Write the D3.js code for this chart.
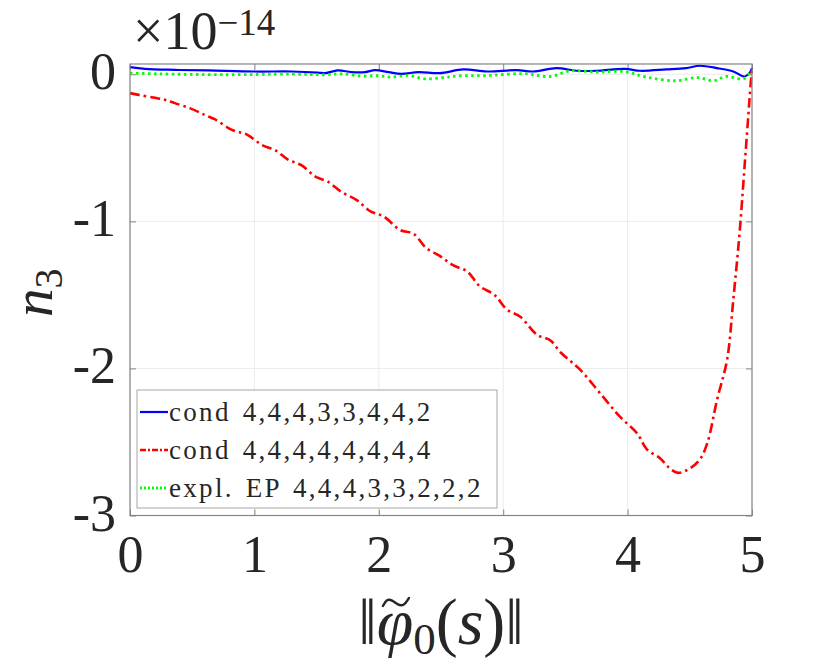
<!DOCTYPE html>
<html>
<head>
<meta charset="utf-8">
<script src="https://cdn.jsdelivr.net/npm/d3@7"></script>
<style>
  body { margin: 0; background: #fff; }
  svg { display: block; }
</style>
</head>
<body>
<div id="chart"></div>
<script>
// values are in units of 1e-14
const xTicks = [0, 1, 2, 3, 4, 5];
const yTicks = [-3, -2, -1, 0];

const blueX = [0, 0.12, 0.36, 0.63, 1.0, 1.3, 1.51, 1.57, 1.67, 1.78, 1.89, 1.97, 2.08, 2.18, 2.32, 2.49, 2.68, 2.87, 3.11, 3.24, 3.43, 3.59, 3.75, 3.98, 4.10, 4.31, 4.47, 4.58, 4.72, 4.85, 4.94, 4.98, 5.0];
const blueY = [0.049, 0.037, 0.03, 0.026, 0.019, 0.019, 0.012, 0.008, 0.026, 0.015, 0.015, 0.028, 0.015, 0.003, 0.015, 0.008, 0.033, 0.019, 0.028, 0.019, 0.042, 0.024, 0.024, 0.037, 0.024, 0.033, 0.042, 0.058, 0.042, 0.019, -0.015, 0.008, 0.042];

const redX = [0, 0.07, 0.2, 0.28, 0.36, 0.48, 0.60, 0.68, 0.82, 0.94, 1.06, 1.17, 1.27, 1.38, 1.49, 1.59, 1.70, 1.82, 1.93, 2.04, 2.17, 2.28, 2.38, 2.49, 2.60, 2.71, 2.81, 2.93, 3.03, 3.14, 3.27, 3.38, 3.46, 3.54, 3.62, 3.80, 3.94, 4.075, 4.155, 4.26, 4.34, 4.405, 4.50, 4.58, 4.64, 4.72, 4.80, 4.85, 4.90, 4.94, 4.98, 5.0];
const redY = [-0.128, -0.14, -0.16, -0.173, -0.196, -0.23, -0.276, -0.305, -0.378, -0.41, -0.48, -0.518, -0.58, -0.62, -0.695, -0.73, -0.80, -0.854, -0.93, -0.967, -1.058, -1.085, -1.18, -1.235, -1.30, -1.34, -1.44, -1.50, -1.60, -1.65, -1.77, -1.81, -1.89, -1.95, -2.01, -2.19, -2.33, -2.44, -2.55, -2.61, -2.68, -2.71, -2.68, -2.62, -2.51, -2.21, -1.94, -1.53, -1.08, -0.63, -0.17, 0.05];

const greenX = [0, 0.23, 0.76, 1.30, 1.57, 1.70, 1.86, 1.99, 2.10, 2.24, 2.37, 2.52, 2.65, 2.89, 3.16, 3.38, 3.54, 3.75, 3.97, 4.15, 4.39, 4.56, 4.69, 4.79, 4.93, 4.98];
const greenY = [0.008, 0.003, -0.003, 0.001, -0.003, 0.003, -0.012, -0.01, -0.019, -0.008, -0.031, -0.022, -0.01, -0.008, 0.005, -0.015, 0.024, 0.015, 0.019, -0.019, -0.044, -0.022, -0.044, -0.015, -0.031, 0.008];

const legendLabels = ['cond 4,4,4,3,3,4,4,2', 'cond 4,4,4,4,4,4,4,4', 'expl. EP 4,4,4,3,3,2,2,2'];

const series = [
  { xs: blueX, ys: blueY, color: '#0000ff', width: 2.2, dash: null, legDash: null },
  { xs: redX, ys: redY, color: '#ff0000', width: 2.6, dash: '10,4,2.5,4', legDash: '6,2,2,2' },
  { xs: greenX, ys: greenY, color: '#00ff00', width: 2.8, dash: '2.5,3.5', legDash: '2,2' }
];

const serif = "'Liberation Serif', 'Times New Roman', 'DejaVu Serif', serif";
const ink = '#262626';

const W = 830, H = 665;
const margin = { top: 64, right: 78, bottom: 149.5, left: 130 };
const width = W - margin.left - margin.right;
const height = H - margin.top - margin.bottom;

const svg = d3.select('#chart').append('svg')
  .attr('width', W)
  .attr('height', H);

const g = svg.append('g')
  .attr('transform', `translate(${margin.left},${margin.top})`);

const x = d3.scaleLinear().domain([0, 5]).range([0, width]);
const y = d3.scaleLinear().domain([-3, 0.07]).range([height, 0]);

// grid
g.selectAll('.vgrid').data(xTicks).enter().append('line')
  .attr('x1', d => x(d)).attr('x2', d => x(d))
  .attr('y1', 0).attr('y2', height)
  .attr('stroke', '#ebebeb').attr('stroke-width', 1);
g.selectAll('.hgrid').data(yTicks).enter().append('line')
  .attr('y1', d => y(d)).attr('y2', d => y(d))
  .attr('x1', 0).attr('x2', width)
  .attr('stroke', '#ebebeb').attr('stroke-width', 1);

// axes (ticks inside, on all four sides)
const axisColor = '#858585';
const xAxis = g.append('g').attr('transform', `translate(0,${height})`)
  .call(d3.axisBottom(x).tickValues(xTicks).tickFormat(d3.format('d'))
    .tickSizeInner(-6).tickSizeOuter(0).tickPadding(20));
const yAxis = g.append('g')
  .call(d3.axisLeft(y).tickValues(yTicks).tickFormat(d => d < 0 ? '-' + Math.abs(d) : d)
    .tickSizeInner(-6).tickSizeOuter(0).tickPadding(14));
g.append('g')
  .call(d3.axisTop(x).tickValues(xTicks).tickFormat('').tickSizeInner(-6).tickSizeOuter(0));
g.append('g').attr('transform', `translate(${width},0)`)
  .call(d3.axisRight(y).tickValues(yTicks).tickFormat('').tickSizeInner(-6).tickSizeOuter(0));

g.selectAll('.domain').remove();
g.selectAll('.tick line').attr('stroke', axisColor);
g.selectAll('.tick text')
  .attr('font-family', null)
  .style('font-family', serif)
  .style('font-size', '52px')
  .attr('fill', ink);
yAxis.selectAll('text').attr('dy', '0.28em');

// lines
svg.append('clipPath').attr('id', 'clip')
  .append('rect').attr('x', -2).attr('y', -2).attr('width', width + 4).attr('height', height + 4);

const line = d3.line()
  .x(d => x(d[0]))
  .y(d => y(d[1]))
  .curve(d3.curveCatmullRom.alpha(0.5));

series.forEach(s => {
  g.append('path')
    .datum(s.xs.map((v, i) => [v, s.ys[i]]))
    .attr('clip-path', 'url(#clip)')
    .attr('fill', 'none')
    .attr('stroke', s.color)
    .attr('stroke-width', s.width)
    .attr('stroke-dasharray', s.dash)
    .attr('d', line);
});

// box
g.append('rect')
  .attr('x', 0).attr('y', 0).attr('width', width).attr('height', height)
  .attr('fill', 'none').attr('stroke', axisColor).attr('stroke-width', 1.2);

// exponent label
const expo = svg.append('text').attr('x', 133).attr('y', 49)
  .style('font-family', serif).style('font-size', '54px').attr('fill', ink);
expo.append('tspan').text('\u00d710');
expo.append('tspan').attr('dy', -14).style('font-size', '37px').text('\u221214');

// y label
svg.append('text')
  .attr('transform', 'translate(52,317) rotate(-90)')
  .style('font-family', serif).style('font-size', '57px').attr('fill', ink)
  .call(t => {
    t.append('tspan').style('font-style', 'italic').text('n');
    t.append('tspan').attr('dy', 10).style('font-size', '40px').text('3');
  });

// x label
const xl = svg.append('text')
  .attr('x', margin.left + width / 2).attr('y', 644)
  .attr('text-anchor', 'middle')
  .style('font-family', serif).style('font-size', '66px').attr('fill', ink);
xl.append('tspan').text('\u2016');
xl.append('tspan').style('font-style', 'italic').text('\u03c6');
xl.append('tspan').attr('dy', 10).style('font-size', '45px').text('0');
xl.append('tspan').attr('dy', -10).text('(');
xl.append('tspan').style('font-style', 'italic').text('s');
xl.append('tspan').text(')\u2016');

// tilde accent over phi, drawn as a small wave
const phiStart = xl.node().getStartPositionOfChar(1).x;
const phiEnd = xl.node().getEndPositionOfChar(1).x;
const tc = (phiStart + phiEnd) / 2 + 1;
svg.append('path')
  .attr('d', d3.line().curve(d3.curveBasis)([
    [tc - 13, 606], [tc - 9, 599], [tc - 4, 600], [tc + 2, 605], [tc + 8, 606], [tc + 13, 598]
  ]))
  .attr('fill', 'none')
  .attr('stroke', ink)
  .attr('stroke-width', 2.4)
  .attr('stroke-linecap', 'round');

// legend
const leg = svg.append('g').attr('transform', 'translate(137,390)');
leg.append('rect')
  .attr('width', 360).attr('height', 118)
  .attr('fill', '#fff').attr('stroke', '#a6a6a6').attr('stroke-width', 1);

legendLabels.forEach((lab, i) => {
  const yy = 22 + i * 38;
  leg.append('line')
    .attr('x1', 3).attr('x2', 31).attr('y1', yy).attr('y2', yy)
    .attr('stroke', series[i].color)
    .attr('stroke-width', series[i].width)
    .attr('stroke-dasharray', series[i].legDash);
  leg.append('text')
    .attr('x', 32).attr('y', yy + 9)
    .style('font-family', serif)
    .style('font-size', '27px')
    .style('letter-spacing', '2.3px')
    .style('word-spacing', '3px')
    .attr('fill', ink)
    .text(lab);
});
</script>
</body>
</html>
